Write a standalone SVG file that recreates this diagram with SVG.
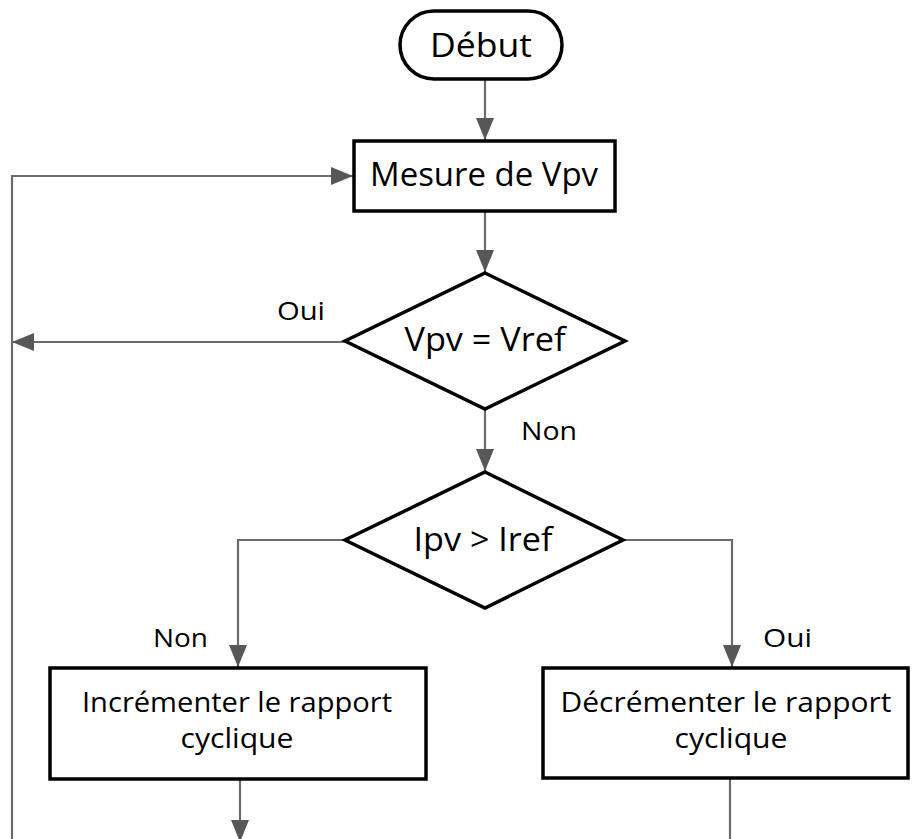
<svg xmlns="http://www.w3.org/2000/svg" width="912" height="839" viewBox="0 0 912 839">
  <style>
    .node { fill: #ffffff; stroke: #000000; stroke-width: 3.5; }
    .wire { fill: none; stroke: #6b6b6b; stroke-width: 2.2; }
    .big { font-family: "Open Sans", "Noto Sans", sans-serif; font-size: 33px; fill: #000; text-anchor: middle; }
    .mid { font-family: "Open Sans", "Noto Sans", sans-serif; font-size: 27px; fill: #000; text-anchor: middle; }
    .lbl { font-family: "Open Sans", "Noto Sans", sans-serif; font-size: 25px; fill: #000; }
  </style>
  <defs>
    <marker id="head" viewBox="0 0 22 18" refX="22" refY="9" markerWidth="22" markerHeight="18" markerUnits="userSpaceOnUse" orient="auto">
      <path d="M0,0 L22,9 L0,18 Z" fill="#575757"/>
    </marker>
  </defs>

  <rect width="912" height="839" fill="#ffffff"/>

  <g id="connectors">
    <path class="wire" d="M485,79 V140" marker-end="url(#head)"/>
    <path class="wire" d="M485,211 V272" marker-end="url(#head)"/>
    <path class="wire" d="M345,342 H12" marker-end="url(#head)"/>
    <path class="wire" d="M12,839 V176 H353" marker-end="url(#head)"/>
    <path class="wire" d="M485,409 V471" marker-end="url(#head)"/>
    <path class="wire" d="M345,540 H238 V667" marker-end="url(#head)"/>
    <path class="wire" d="M623,540 H732 V667" marker-end="url(#head)"/>
    <path class="wire" d="M240,780 V842" marker-end="url(#head)"/>
    <path class="wire" d="M730,779 V839"/>
    <text class="lbl" x="277" y="320" textLength="48" lengthAdjust="spacingAndGlyphs">Oui</text>
    <text class="lbl" x="521" y="440" textLength="56" lengthAdjust="spacingAndGlyphs">Non</text>
    <text class="lbl" x="153" y="647" textLength="55" lengthAdjust="spacingAndGlyphs">Non</text>
    <text class="lbl" x="763" y="647" textLength="49" lengthAdjust="spacingAndGlyphs">Oui</text>
  </g>

  <g id="debut">
    <rect class="node" x="400" y="11" width="162" height="68" rx="34" ry="34" stroke-width="3"/>
    <text class="big" x="481" y="57" textLength="102" lengthAdjust="spacingAndGlyphs">Début</text>
  </g>

  <g id="mesure">
    <rect class="node" x="354" y="141" width="261" height="70"/>
    <text class="big" x="484" y="186" textLength="228" lengthAdjust="spacingAndGlyphs">Mesure de Vpv</text>
  </g>

  <g id="test-v">
    <polygon class="node" points="485,273 625,341 485,409 345,341"/>
    <text class="big" x="485" y="351" textLength="161" lengthAdjust="spacingAndGlyphs">Vpv = Vref</text>
  </g>

  <g id="test-i">
    <polygon class="node" points="485,472 623,540 485,608 345,540"/>
    <text class="big" x="483" y="551" textLength="139" lengthAdjust="spacingAndGlyphs">Ipv &gt; Iref</text>
  </g>

  <g id="increment">
    <rect class="node" x="50" y="668" width="376" height="111"/>
    <text class="mid" x="237" y="712" textLength="310" lengthAdjust="spacingAndGlyphs">Incrémenter le rapport</text>
    <text class="mid" x="237" y="748" textLength="113" lengthAdjust="spacingAndGlyphs">cyclique</text>
  </g>

  <g id="decrement">
    <rect class="node" x="543" y="668" width="365" height="110"/>
    <text class="mid" x="726" y="712" textLength="331" lengthAdjust="spacingAndGlyphs">Décrémenter le rapport</text>
    <text class="mid" x="731" y="748" textLength="113" lengthAdjust="spacingAndGlyphs">cyclique</text>
  </g>
</svg>
